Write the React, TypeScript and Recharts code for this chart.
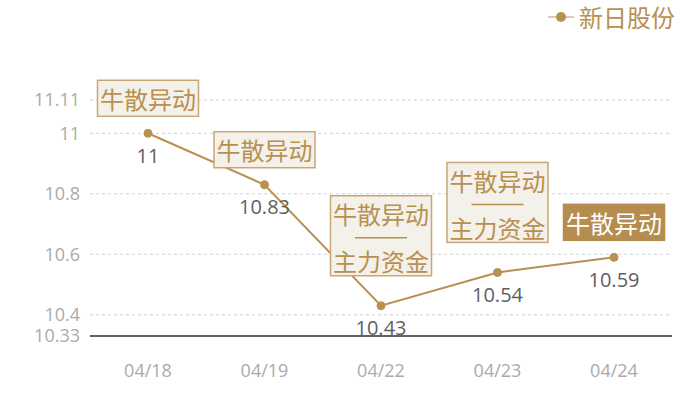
import React from "react";
import { LineChart, Line, XAxis, YAxis, CartesianGrid, LabelList } from "recharts";

const categories = ["04/18", "04/19", "04/22", "04/23", "04/24"];
const values = [11, 10.83, 10.43, 10.54, 10.59];
const yTicks = [10.33, 10.4, 10.6, 10.8, 11, 11.11];
const annotations: string[][] = [
  ["牛散异动"],
  ["牛散异动"],
  ["牛散异动", "主力资金"],
  ["牛散异动", "主力资金"],
  ["牛散异动"],
];
const highlighted = [false, false, false, false, true];
const seriesName = "新日股份";

const data = categories.map((c, i) => ({ date: c, value: values[i] }));

const GOLD = "#b8904f";
const FONT = "'Open Sans', 'Noto Sans CJK SC', sans-serif";
const CJK = "'Noto Sans CJK SC', sans-serif";

const ValueLabel = (props: any) => {
  const { x, y, value } = props;
  return (
    <text x={x} y={y + 22} textAnchor="middle" dominantBaseline="central" fill="#606060" fontSize={20} fontFamily={FONT}>
      {value}
    </text>
  );
};

const AnnotationBox = (props: any) => {
  const { x, y, index } = props;
  const lines = annotations[index];
  const hi = highlighted[index];
  const w = 101;
  const double = lines.length > 1;
  const h = double ? 80 : 36;
  const gap = double ? 30 : 17;
  const top = y - gap - h;
  const left = x - w / 2;
  const textFill = hi ? "#ffffff" : GOLD;
  return (
    <g>
      <rect x={left} y={top} width={w} height={h} fill={hi ? "#b58d4f" : "#f4f0ea"} stroke={hi ? "#b58d4f" : "#c9a774"} strokeWidth={1.5} />
      <text x={x} y={top + 18} textAnchor="middle" dominantBaseline="central" fill={textFill} fontSize={24} fontFamily={CJK}>
        {lines[0]}
      </text>
      {double && (
        <>
          <line x1={x - 26} x2={x + 26} y1={top + 42} y2={top + 42} stroke={GOLD} strokeWidth={1.5} />
          <text x={x} y={top + 65} textAnchor="middle" dominantBaseline="central" fill={textFill} fontSize={24} fontFamily={CJK}>
            {lines[1]}
          </text>
        </>
      )}
    </g>
  );
};

export default function App() {
  return (
    <div style={{ position: "absolute", left: 0, top: 0, width: 700, height: 400, fontFamily: FONT }}>
      <div style={{ position: "absolute", left: 548, top: 3, display: "flex", alignItems: "center", zIndex: 2 }}>
        <svg width={26} height={14} style={{ marginRight: 5 }}>
          <line x1={0} x2={26} y1={7} y2={7} stroke="#d2b98f" strokeWidth={1.5} />
          <circle cx={13} cy={7} r={5} fill={GOLD} />
        </svg>
        <span style={{ color: GOLD, fontSize: 24, lineHeight: "28px", fontFamily: CJK }}>{seriesName}</span>
      </div>
      <LineChart width={700} height={400} data={data} margin={{ top: 100, right: 28, bottom: 2, left: 10 }}>
        <CartesianGrid vertical={false} stroke="#d0d0d0" strokeDasharray="3 3" />
        <XAxis
          dataKey="date"
          padding={{ left: 58, right: 58 }}
          axisLine={{ stroke: "#333", strokeWidth: 1.5 }}
          tickLine={false}
          height={62}
          tickMargin={22}
          tick={{ fill: "#aaa", fontSize: 18 }}
        />
        <YAxis
          type="number"
          domain={[10.33, 11.11]}
          ticks={yTicks}
          width={80}
          axisLine={false}
          tickLine={false}
          tickMargin={4}
          interval={0}
          tick={{ fill: "#aaa", fontSize: 18 }}
        />
        <Line
          type="linear"
          dataKey="value"
          name={seriesName}
          stroke={GOLD}
          strokeWidth={2}
          dot={{ r: 4, fill: GOLD, stroke: GOLD, strokeWidth: 1 }}
          activeDot={false}
          isAnimationActive={false}
        >
          <LabelList dataKey="value" content={<ValueLabel />} />
          <LabelList dataKey="value" content={<AnnotationBox />} />
        </Line>
      </LineChart>
    </div>
  );
}
